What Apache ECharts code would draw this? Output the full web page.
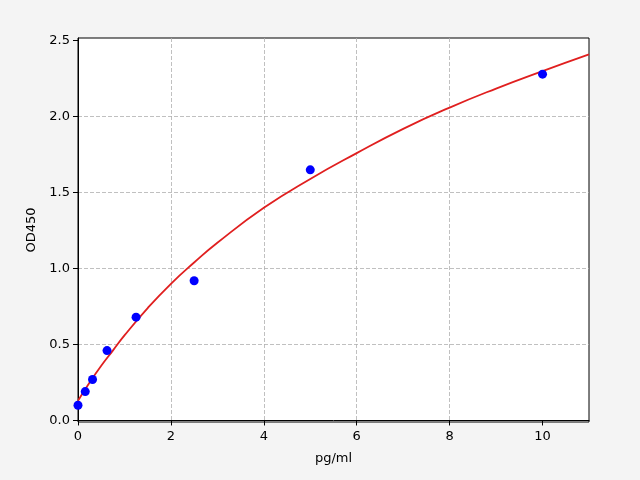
<!DOCTYPE html>
<html>
<head>
<meta charset="utf-8">
<script src="https://cdn.jsdelivr.net/npm/echarts@6/dist/echarts.min.js"></script>
<style>
  html, body { margin: 0; padding: 0; background: #f4f4f4; }
  #chart { width: 640px; height: 480px; }
</style>
</head>
<body>
<div id="chart"></div>
<script>
// standards (concentration, OD)
let stdConc = [0, 0.156, 0.3125, 0.625, 1.25, 2.5, 5, 10];
let stdOD = [0.10, 0.19, 0.27, 0.46, 0.68, 0.92, 1.65, 2.28];

// fitted curve
let curveConc = [0, 0.25, 0.5, 0.75, 1, 1.5, 2, 2.5, 3, 4, 5, 6, 7, 8, 9, 10, 11];
let curveOD = [0.13, 0.25, 0.36, 0.46, 0.56, 0.74, 0.90, 1.04, 1.17, 1.40, 1.59, 1.76, 1.92, 2.06, 2.185, 2.30, 2.41];

let xTicks = [0, 2, 4, 6, 8, 10];
let yTicks = [0, 0.5, 1.0, 1.5, 2.0, 2.5];

let font = 'DejaVu Sans';
let ctx = document.getElementById("chart");
let chart = echarts.init(ctx);

let option = {
    backgroundColor: '#f4f4f4',
    animation: false,
    grid: {
        left: 78,
        right: 51,
        top: 38,
        bottom: 58,
        show: true,
        backgroundColor: '#ffffff',
        borderColor: '#000000',
        borderWidth: 1
    },
    xAxis: {
        type: 'value',
        min: 0,
        max: 11,
        interval: 2,
        name: 'pg/ml',
        nameLocation: 'middle',
        nameGap: 30,
        nameTextStyle: { fontFamily: font, fontSize: 13, color: '#000' },
        axisLine: { lineStyle: { color: '#000' } },
        axisTick: { show: true, inside: false, length: 5, customValues: xTicks, lineStyle: { color: '#000' } },
        axisLabel: { customValues: xTicks, margin: 8, fontFamily: font, fontSize: 13, color: '#000' },
        splitLine: { show: true, showMinLine: false, showMaxLine: false, lineStyle: { color: '#b0b0b0', type: [4, 2], width: 0.8 } }
    },
    yAxis: {
        type: 'value',
        min: -0.01,
        max: 2.518,
        splitNumber: 5,
        name: 'OD450',
        nameLocation: 'middle',
        nameGap: 40,
        nameRotate: 90,
        nameTextStyle: { fontFamily: font, fontSize: 13, color: '#000' },
        axisLine: { show: true, lineStyle: { color: '#000' } },
        axisTick: { show: true, inside: false, length: 5, customValues: yTicks, lineStyle: { color: '#000' } },
        axisLabel: {
            customValues: yTicks,
            margin: 8,
            fontFamily: font,
            fontSize: 13,
            color: '#000',
            formatter: v => v.toFixed(1)
        },
        splitLine: { show: true, showMinLine: false, showMaxLine: false, lineStyle: { color: '#b0b0b0', type: [4, 2], width: 0.8 } }
    },
    series: [{
        name: 'fit',
        type: 'line',
        smooth: true,
        showSymbol: false,
        data: curveConc.map((x, i) => [x, curveOD[i]]),
        lineStyle: { color: '#e01f1f', width: 1.8 },
        z: 2
    }, {
        name: 'std',
        type: 'scatter',
        symbolSize: 9,
        data: stdConc.map((x, i) => [x, stdOD[i]]),
        itemStyle: { color: '#0000ff', opacity: 1 },
        z: 3
    }]
};

chart.setOption(option, true);
window.onresize = () => {
    chart.resize();
};
</script>
</body>
</html>
